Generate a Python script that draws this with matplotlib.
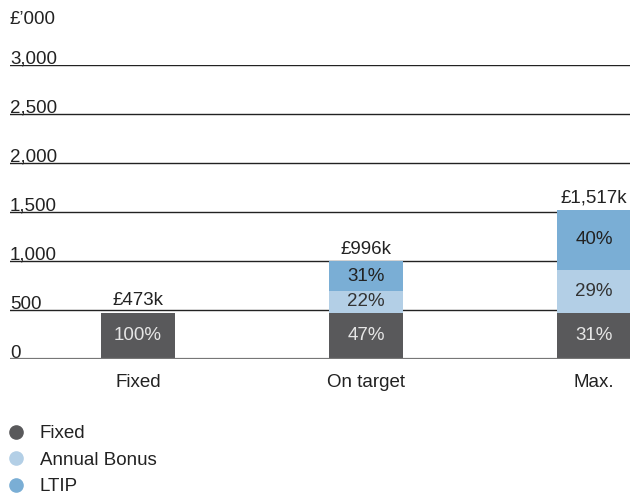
import matplotlib
matplotlib.use("Agg")
import matplotlib.pyplot as plt
from matplotlib.lines import Line2D
import numpy as np

plt.rcParams['font.family'] = ['Liberation Sans', 'DejaVu Sans']

categories = ["Fixed", "On target", "Max."]
series_names = ["Fixed", "Annual Bonus", "LTIP"]
fixed = [473, 473, 473]
bonus = [0, 219, 440]
ltip = [0, 304, 604]
pct_fixed = ["100%", "47%", "31%"]
pct_bonus = ["", "22%", "29%"]
pct_ltip = ["", "31%", "40%"]
totals = ["£473k", "£996k", "£1,517k"]
yticks = [0, 500, 1000, 1500, 2000, 2500, 3000]
ytick_labels = ["0", "500", "1,000", "1,500", "2,000", "2,500", "3,000"]
unit_label = "£’000"

colors = ["#59595b", "#b3cfe6", "#7aaed5"]
text_colors = ["#e6e6e6", "#333333", "#222222"]

W, H = 630, 493
fig = plt.figure(figsize=(6.3, 4.93), dpi=100)
left, right, top, bottom = 10, 630, 65, 359
ax = fig.add_axes([left / W, 1 - bottom / H, (right - left) / W, (bottom - top) / H])

x = np.arange(len(categories))
width = 0.3246
fs = 13.5

# gridlines
for yv in yticks[1:]:
    ax.axhline(yv, color="#222222", lw=1.0, zorder=1)
ax.axhline(0, color="#777777", lw=1.6, zorder=4)

series = [fixed, bonus, ltip]
pcts = [pct_fixed, pct_bonus, pct_ltip]
base = np.zeros(len(categories))
for vals, col, pl, tc in zip(series, colors, pcts, text_colors):
    vals = np.array(vals, dtype=float)
    ax.bar(x, vals, width=width, bottom=base, color=col, zorder=3, linewidth=0)
    for i in range(len(categories)):
        if vals[i] > 0 and pl[i]:
            ax.text(x[i], base[i] + vals[i] / 2, pl[i], ha="center", va="center",
                    fontsize=fs, color=tc, zorder=5)
    base = base + vals

for i in range(len(categories)):
    ax.text(x[i], base[i] + 38, totals[i], ha="center", va="bottom",
            fontsize=fs, color="#222222", zorder=5)

ax.set_xlim(-0.561, 2.158)
ax.set_ylim(0, 3000)
ax.set_xticks(x)
ax.set_xticklabels(categories, fontsize=fs, color="#222222")
ax.tick_params(axis="x", length=0, pad=10.5)
ax.set_yticks([])
for s in ax.spines.values():
    s.set_visible(False)

for yv, lab in zip(yticks, ytick_labels):
    ax.text(0, yv + 15, lab, transform=ax.get_yaxis_transform(), ha="left", va="baseline",
            fontsize=fs, color="#222222")
ax.text(0, 3415, unit_label, transform=ax.get_yaxis_transform(), ha="left", va="baseline",
        fontsize=fs, color="#222222", clip_on=False)

handles = [Line2D([0], [0], marker="o", linestyle="none", markersize=9.5,
                  markerfacecolor=c, markeredgecolor=c) for c in colors]
fig.legend(handles, series_names, loc="upper left", bbox_to_anchor=(7 / W, 1 - 425 / H),
           frameon=False, fontsize=fs, handletextpad=0.75, labelspacing=0.5,
           handlelength=1.0, borderaxespad=0, borderpad=0, labelcolor="#222222")

fig.savefig("out.png", dpi=100)
